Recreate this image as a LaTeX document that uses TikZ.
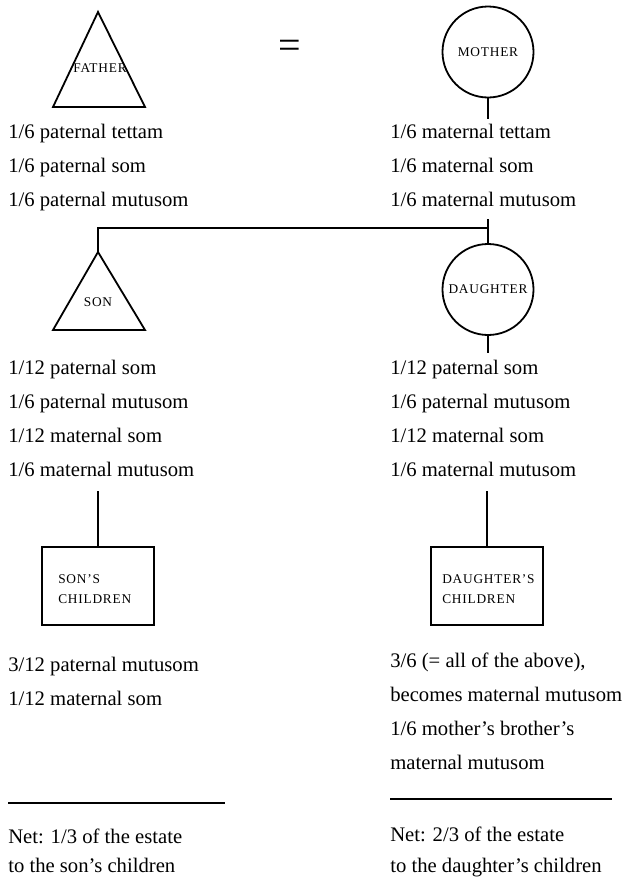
\documentclass[tikz,border=0pt]{standalone}
\usepackage{fontspec}
\setmainfont{Liberation Serif}
\newfontfamily\scfont[LetterSpace=6]{Liberation Serif}
\begin{document}
\begin{tikzpicture}[x=0.75pt,y=-0.75pt,
  txt/.style={anchor=base west, inner sep=0pt, font=\fontsize{15.5}{18}\selectfont},
  lbl/.style={inner sep=0pt, font=\scfont\fontsize{10}{12}\selectfont},
  lbll/.style={lbl, anchor=base west},
  shp/.style={draw, line width=1.35pt},
  person/.style={shp, circle, minimum size=68.25pt, inner sep=0pt},
  kids/.style={shp, rectangle, minimum width=84pt, minimum height=59pt, inner sep=0pt},
  link/.style={line width=0.9pt},
  rulebar/.style={line width=1.6pt}]
\useasboundingbox (0,0) rectangle (626,882);

% father
\coordinate (fapex) at (98,12);
\coordinate (fbr) at (145,107);
\coordinate (fbl) at (53,107);
\draw[shp, line join=miter] (fapex) -- (fbr) -- (fbl) -- cycle;
\node[lbl] (father) at (100,68) {FATHER};

\node[inner sep=0pt, font=\fontsize{30}{30}\selectfont] (eq) at (290,49) {=};

% mother
\node[person, lbl] (mother) at (488,52) {MOTHER};
\coordinate (mstub) at (488,119);

% texts father / mother
\node[txt] (f1) at (8,138) {1/6 paternal tettam};
\node[txt] (f2) at (8,172) {1/6 paternal som};
\node[txt] (f3) at (8,206) {1/6 paternal mutusom};
\node[txt] (m1) at (390,138) {1/6 maternal tettam};
\node[txt] (m2) at (390,172) {1/6 maternal som};
\node[txt] (m3) at (390,206) {1/6 maternal mutusom};

% son
\coordinate (sapex) at (98,252);
\coordinate (sbr) at (145,330);
\coordinate (sbl) at (53,330);
\draw[shp, line join=miter] (sapex) -- (sbr) -- (sbl) -- cycle;
\node[lbl] (son) at (98,302) {SON};

% daughter
\node[person, lbl] (daughter) at (488,289.5) {DAUGHTER};

% connectors
\coordinate (junc) at (488,219);
\coordinate (corner) at (98,228);
\coordinate (dstub) at (488,353);
\draw[link] (mother.south) -- (mstub);
\draw[link] (junc) -- (daughter.north);
\draw[link] (daughter.north |- corner) -- (corner) -- (sapex);
\draw[link] (daughter.south) -- (dstub);

% son / daughter texts
\node[txt] (s1) at (8,374) {1/12 paternal som};
\node[txt] (s2) at (8,408) {1/6 paternal mutusom};
\node[txt] (s3) at (8,442) {1/12 maternal som};
\node[txt] (s4) at (8,476) {1/6 maternal mutusom};
\node[txt] (d1) at (390,374) {1/12 paternal som};
\node[txt] (d2) at (390,408) {1/6 paternal mutusom};
\node[txt] (d3) at (390,442) {1/12 maternal som};
\node[txt] (d4) at (390,476) {1/6 maternal mutusom};

% children boxes
\node[kids] (sonkids) at (98,586) {};
\node[kids] (daukids) at (487,586) {};
\node[lbll] (sk1) at (58,583) {SON’S};
\node[lbll] (sk2) at (58,603) {CHILDREN};
\node[lbll] (dk1) at (442,583) {DAUGHTER’S};
\node[lbll] (dk2) at (442,603) {CHILDREN};
\coordinate (sstub) at (98,491);
\coordinate (dstub2) at (487,491);
\draw[link] (sstub) -- (sonkids.north);
\draw[link] (dstub2) -- (daukids.north);

% children texts
\node[txt] (c1) at (8,671) {3/12 paternal mutusom};
\node[txt] (c2) at (8,705) {1/12 maternal som};
\node[txt] (e1) at (390,667) {3/6 (= all of the above),};
\node[txt] (e2) at (390,701) {becomes maternal mutusom};
\node[txt] (e3) at (390,735) {1/6 mother’s brother’s};
\node[txt] (e4) at (390,769) {maternal mutusom};

% rules
\coordinate (rl1) at (8,803);
\coordinate (rl2) at (225,803);
\coordinate (rr1) at (390,799);
\coordinate (rr2) at (612,799);
\draw[rulebar] (rl1) -- (rl2);
\draw[rulebar] (rr1) -- (rr2);

\node[txt] (n1) at (8,843) {Net: 1/3 of the estate};
\node[txt] (n2) at (8,872) {to the son’s children};
\node[txt] (n3) at (390,841) {Net: 2/3 of the estate};
\node[txt] (n4) at (390,872) {to the daughter’s children};
\end{tikzpicture}
\end{document}
